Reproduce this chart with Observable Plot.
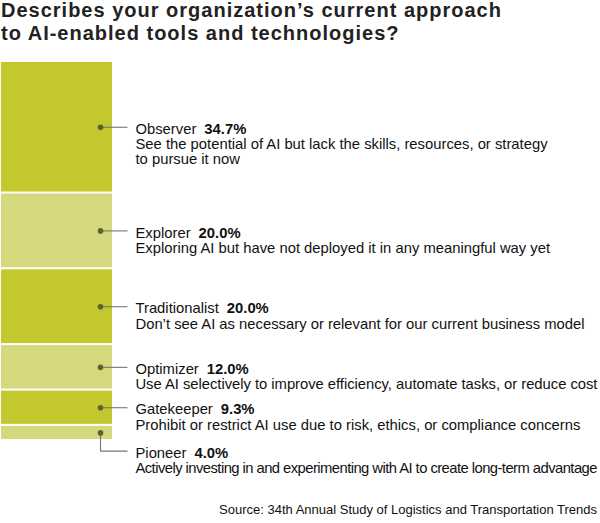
<!DOCTYPE html>
<html>
<head>
<meta charset="utf-8">
<script src="https://cdn.jsdelivr.net/npm/d3@7"></script>
<script src="https://cdn.jsdelivr.net/npm/@observablehq/plot@0.6"></script>
<style>
  html, body { margin: 0; padding: 0; background: #fff; }
  #wrap { position: relative; width: 600px; height: 523px; overflow: hidden; font-family: "Liberation Sans", Arial, Helvetica, sans-serif; }
  #title { position: absolute; left: 1px; top: -1px; font-weight: 700; font-size: 20px; line-height: 22.5px; color: #222; letter-spacing: 1px; margin: 0; padding: 0; }
  #chart { position: absolute; left: 0; top: 50px; }
  #source { position: absolute; right: 3px; top: 502px; font-size: 13px; color: #111; }
</style>
</head>
<body>
<div id="wrap">
  <div id="title">Describes your organization’s current approach<br>to AI-enabled tools and technologies?</div>
  <div id="chart"></div>
  <div id="source">Source: 34th Annual Study of Logistics and Transportation Trends</div>
</div>
<script>
const categories = ["Observer", "Explorer", "Traditionalist", "Optimizer", "Gatekeeper", "Pioneer"];
const shares = [34.7, 20.0, 20.0, 12.0, 9.3, 4.0];
const shareLabels = ["34.7%", "20.0%", "20.0%", "12.0%", "9.3%", "4.0%"];
const descriptions = [
  "See the potential of AI but lack the skills, resources, or strategy\nto pursue it now",
  "Exploring AI but have not deployed it in any meaningful way yet",
  "Don’t see AI as necessary or relevant for our current business model",
  "Use AI selectively to improve efficiency, automate tasks, or reduce cost",
  "Prohibit or restrict AI use due to risk, ethics, or compliance concerns",
  "Actively investing in and experimenting with AI to create long-term advantage"
];

const DARK = "#c3c82e", LIGHT = "#d5d87c";
const total = d3.sum(shares);
let acc = 0;
const rows = categories.map((c, i) => {
  const y1 = acc; acc += shares[i];
  const mid = (y1 + acc) / 2;
  const last = i === categories.length - 1;
  return {
    name: c, share: shares[i], pct: shareLabels[i], desc: descriptions[i],
    y1, y2: acc, mid,
    labelY: last ? total + 2.8 : mid,
    fill: i % 2 === 0 ? DARK : LIGHT,
    text: c + "\n" + descriptions[i]
  };
});

const dotX = 0.892, lineEndX = 1.135, labelX = 1.207;

const plot = Plot.plot({
  width: 600,
  height: 473,
  margin: 0,
  style: { fontFamily: "'Liberation Sans', Arial, Helvetica, sans-serif", fontSize: "14.8px", overflow: "visible", color: "#111" },
  x: { domain: [0, 1], range: [1, 112], axis: null },
  y: { domain: [0, 100], range: [11, 390], axis: null },
  marks: [
    Plot.rect(rows, { x1: () => 0, x2: () => 1, y1: "y1", y2: "y2", fill: "fill", insetTop: 1, insetBottom: 1 }),
    Plot.link(rows, { x1: () => dotX, y1: "mid", x2: () => lineEndX, y2: "labelY", stroke: "#777", strokeWidth: 1.1, curve: "step-before" }),
    Plot.dot(rows, { x: () => dotX, y: "mid", r: 2.8, fill: "#5c6230", stroke: "none" }),
    Plot.text(rows, { x: () => labelX, y: "labelY", text: "text", textAnchor: "start", lineAnchor: "top", lineHeight: 1.02, dy: -4, fill: "#111", fontSize: 14.8 })
  ]
});
document.getElementById("chart").appendChild(plot);

// add bold percentage after each category name
const SVGNS = "http://www.w3.org/2000/svg";
plot.querySelectorAll("text").forEach(t => {
  const spans = t.querySelectorAll("tspan");
  if (!spans.length) return;
  const i = categories.indexOf(spans[0].textContent);
  if (i < 0) return;
  const b = document.createElementNS(SVGNS, "tspan");
  b.setAttribute("font-weight", "bold");
  b.setAttribute("dx", "8");
  b.textContent = rows[i].pct;
  spans[0].appendChild(b);
  // fit the longest description within the frame, as in the reference
  const lastSpan = spans[spans.length - 1];
  if (lastSpan.getComputedTextLength && lastSpan.getComputedTextLength() > 462) {
    lastSpan.setAttribute("textLength", "462");
    lastSpan.setAttribute("lengthAdjust", "spacing");
  }
});
</script>
</body>
</html>
